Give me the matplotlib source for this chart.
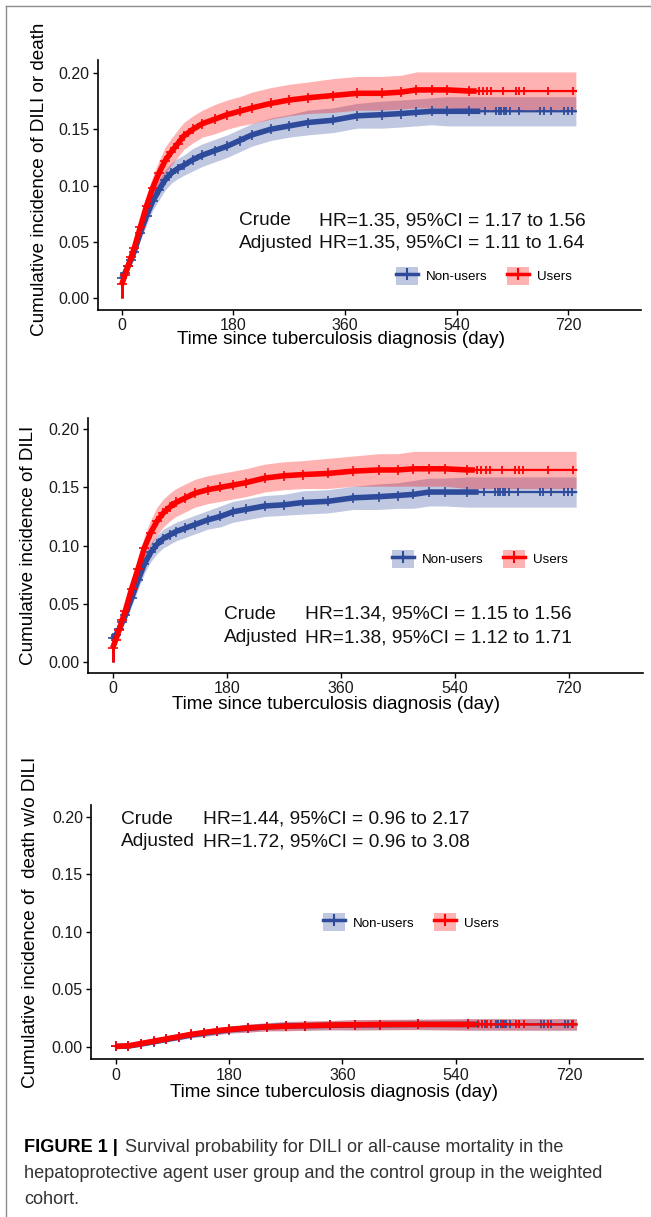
import numpy as np
import matplotlib
matplotlib.use("Agg")
import matplotlib.pyplot as plt
from matplotlib.patches import Patch
from matplotlib.lines import Line2D
from matplotlib.legend_handler import HandlerTuple
from matplotlib.ticker import FormatStrFormatter

plt.rcParams['font.family'] = ['Liberation Sans', 'DejaVu Sans']

# ---- data ----
days = [0, 5, 10, 15, 20, 30, 40, 50, 60, 70, 80, 90, 100, 115, 130, 150, 170, 190,
        210, 240, 270, 300, 340, 380, 420, 450, 475, 500, 525, 560, 600, 650, 700, 732]

# panel A: DILI or death
a_users = [0.012, 0.020, 0.028, 0.036, 0.044, 0.063, 0.082, 0.098, 0.111, 0.122, 0.130, 0.137,
           0.144, 0.150, 0.155, 0.159, 0.163, 0.166, 0.169, 0.173, 0.176, 0.178, 0.180, 0.182,
           0.182, 0.183, 0.185, 0.185, 0.185, 0.184, 0.184, 0.184, 0.184, 0.184]
a_users_hi = [0.015, 0.024, 0.033, 0.042, 0.050, 0.071, 0.091, 0.108, 0.122, 0.134, 0.142, 0.149,
              0.156, 0.162, 0.167, 0.172, 0.176, 0.179, 0.183, 0.187, 0.190, 0.192, 0.195, 0.197,
              0.197, 0.198, 0.201, 0.201, 0.201, 0.201, 0.201, 0.201, 0.201, 0.201]
a_users_lo = [0.009, 0.016, 0.023, 0.030, 0.038, 0.055, 0.073, 0.088, 0.100, 0.110, 0.118, 0.125,
              0.132, 0.138, 0.143, 0.146, 0.150, 0.153, 0.155, 0.159, 0.162, 0.164, 0.165, 0.167,
              0.167, 0.168, 0.169, 0.169, 0.169, 0.167, 0.167, 0.167, 0.167, 0.167]
a_non = [0.018, 0.022, 0.028, 0.034, 0.041, 0.058, 0.073, 0.086, 0.096, 0.105, 0.111, 0.115,
         0.118, 0.123, 0.127, 0.131, 0.135, 0.140, 0.145, 0.150, 0.153, 0.156, 0.158, 0.162,
         0.163, 0.164, 0.165, 0.166, 0.166, 0.166, 0.166, 0.166, 0.166, 0.166]
a_non_hi = [0.021, 0.026, 0.033, 0.039, 0.047, 0.065, 0.081, 0.094, 0.105, 0.114, 0.120, 0.124,
            0.127, 0.133, 0.137, 0.141, 0.145, 0.150, 0.155, 0.160, 0.163, 0.167, 0.169, 0.173,
            0.175, 0.176, 0.177, 0.178, 0.179, 0.179, 0.179, 0.179, 0.179, 0.179]
a_non_lo = [0.015, 0.018, 0.023, 0.029, 0.035, 0.051, 0.065, 0.078, 0.087, 0.096, 0.102, 0.106,
            0.109, 0.113, 0.117, 0.121, 0.125, 0.130, 0.135, 0.140, 0.143, 0.145, 0.147, 0.151,
            0.151, 0.152, 0.153, 0.154, 0.153, 0.153, 0.153, 0.153, 0.153, 0.153]

# panel B: DILI
b_users = [0.012, 0.019, 0.027, 0.036, 0.044, 0.063, 0.080, 0.098, 0.111, 0.121, 0.128, 0.133,
           0.137, 0.141, 0.145, 0.148, 0.150, 0.152, 0.154, 0.158, 0.160, 0.161, 0.162, 0.164,
           0.165, 0.165, 0.166, 0.166, 0.166, 0.165, 0.165, 0.165, 0.165, 0.165]
b_users_hi = [0.015, 0.023, 0.032, 0.042, 0.050, 0.071, 0.089, 0.108, 0.122, 0.133, 0.140, 0.145,
              0.149, 0.153, 0.157, 0.160, 0.162, 0.164, 0.166, 0.170, 0.172, 0.173, 0.175, 0.177,
              0.179, 0.179, 0.181, 0.181, 0.181, 0.181, 0.181, 0.181, 0.181, 0.181]
b_users_lo = [0.009, 0.015, 0.022, 0.030, 0.038, 0.055, 0.071, 0.088, 0.100, 0.109, 0.116, 0.121,
              0.125, 0.129, 0.133, 0.136, 0.138, 0.140, 0.142, 0.146, 0.148, 0.149, 0.149, 0.151,
              0.151, 0.151, 0.151, 0.151, 0.151, 0.149, 0.149, 0.149, 0.149, 0.149]
b_non = [0.020, 0.023, 0.028, 0.034, 0.040, 0.055, 0.070, 0.084, 0.094, 0.101, 0.106, 0.109,
         0.112, 0.115, 0.118, 0.122, 0.125, 0.129, 0.131, 0.134, 0.135, 0.137, 0.138, 0.141,
         0.142, 0.143, 0.144, 0.146, 0.146, 0.146, 0.146, 0.146, 0.146, 0.146]
b_non_hi = [0.023, 0.027, 0.033, 0.039, 0.046, 0.062, 0.078, 0.092, 0.102, 0.109, 0.114, 0.117,
            0.120, 0.123, 0.126, 0.130, 0.134, 0.138, 0.140, 0.143, 0.144, 0.147, 0.148, 0.151,
            0.153, 0.154, 0.156, 0.158, 0.158, 0.159, 0.159, 0.159, 0.159, 0.159]
b_non_lo = [0.017, 0.019, 0.023, 0.029, 0.034, 0.048, 0.062, 0.076, 0.086, 0.093, 0.098, 0.101,
            0.104, 0.107, 0.110, 0.114, 0.116, 0.120, 0.122, 0.125, 0.126, 0.127, 0.128, 0.131,
            0.131, 0.132, 0.132, 0.134, 0.134, 0.133, 0.133, 0.133, 0.133, 0.133]

# panel C: death without DILI
days_c = [0, 20, 40, 60, 80, 100, 120, 140, 160, 180, 210, 240, 270, 300, 340, 380, 420, 480,
          560, 650, 732]
c_users = [0.0005, 0.0010, 0.0030, 0.0050, 0.0070, 0.0090, 0.0110, 0.0125, 0.0140, 0.0152, 0.0165,
           0.0175, 0.0180, 0.0185, 0.0190, 0.0193, 0.0195, 0.0196, 0.0196, 0.0196, 0.0196]
c_users_hi = [0.0010, 0.0020, 0.0045, 0.0070, 0.0090, 0.0115, 0.0135, 0.0155, 0.0170, 0.0182, 0.0200,
              0.0210, 0.0220, 0.0225, 0.0230, 0.0238, 0.0240, 0.0241, 0.0246, 0.0246, 0.0246]
c_users_lo = [0.0000, 0.0000, 0.0015, 0.0030, 0.0050, 0.0065, 0.0085, 0.0095, 0.0110, 0.0122, 0.0130,
              0.0140, 0.0140, 0.0145, 0.0150, 0.0148, 0.0150, 0.0151, 0.0146, 0.0146, 0.0146]
c_non = [0.0005, 0.0008, 0.0025, 0.0045, 0.0065, 0.0085, 0.0105, 0.0120, 0.0135, 0.0150, 0.0163,
         0.0175, 0.0182, 0.0185, 0.0188, 0.0192, 0.0194, 0.0196, 0.0196, 0.0196, 0.0196]
c_non_hi = [0.0010, 0.0018, 0.0040, 0.0065, 0.0085, 0.0110, 0.0130, 0.0150, 0.0165, 0.0180, 0.0198,
            0.0210, 0.0222, 0.0225, 0.0228, 0.0237, 0.0239, 0.0241, 0.0246, 0.0246, 0.0246]
c_non_lo = [0.0000, 0.0000, 0.0010, 0.0025, 0.0045, 0.0060, 0.0080, 0.0090, 0.0105, 0.0120, 0.0128,
            0.0140, 0.0142, 0.0145, 0.0148, 0.0147, 0.0149, 0.0151, 0.0146, 0.0146, 0.0146]

# censoring: dense up to these days, then sparse marks
dense_end_users = 572
dense_end_non = 578
censor_users = [576, 582, 589, 596, 615, 636, 641, 648, 687, 727]
censor_non = [586, 604, 608, 612, 616, 620, 626, 640, 675, 680, 692, 713, 719, 725]

x_ticks = [0, 180, 360, 540, 720]
y_ticks = [0.00, 0.05, 0.10, 0.15, 0.20]

BLUE = '#2E4A9A'
RED = '#FF0000'
BAND_ALPHA = 0.3


def draw_line(ax, t, v, color, dense_end, censor):
    t = np.asarray(t, dtype=float)
    v = np.asarray(v, dtype=float)
    # jump from 0 at time zero
    ax.plot([0, 0], [0, v[0]], color=color, lw=2.0, solid_capstyle='butt')
    ax.plot(t, v, color=color, lw=1.6)
    keep = t <= dense_end
    td = np.append(t[keep], dense_end)
    vd = np.append(v[keep], np.interp(dense_end, t, v))
    ax.plot(td, vd, color=color, lw=4.0, solid_capstyle='butt')
    ax.plot(t[keep], v[keep], ls='none', marker='+', ms=6.5, mew=1.2, color=color)
    ax.plot(censor, np.interp(censor, t, v), ls='none', marker='+', ms=6,
            mew=1.3, color=color)


def draw_panel(ax, t, non, non_lo, non_hi, users, users_lo, users_hi, ylim):
    ax.fill_between(t, non_lo, non_hi, color=BLUE, alpha=BAND_ALPHA, lw=0)
    ax.fill_between(t, users_lo, users_hi, color=RED, alpha=BAND_ALPHA, lw=0)
    draw_line(ax, t, non, BLUE, dense_end_non, censor_non)
    draw_line(ax, t, users, RED, dense_end_users, censor_users)

    ax.set_xlim(-39, 837)
    ax.set_ylim(*ylim)
    ax.set_xticks(x_ticks)
    ax.set_yticks(y_ticks)
    ax.yaxis.set_major_formatter(FormatStrFormatter('%.2f'))
    for side in ['top', 'right']:
        ax.spines[side].set_visible(False)
    for side in ['left', 'bottom']:
        ax.spines[side].set_linewidth(1.2)
        ax.spines[side].set_color('black')
    ax.tick_params(length=3.5, width=1.0, color='black', labelsize=11.5,
                   labelcolor='#1a1a1a', pad=2.5)


def add_legend(ax, x, y):
    handles = [
        (Patch(facecolor=BLUE, alpha=BAND_ALPHA, lw=0),
         Line2D([], [], color=BLUE, lw=2.5, marker='+', ms=8, mew=1.5)),
        (Patch(facecolor=RED, alpha=BAND_ALPHA, lw=0),
         Line2D([], [], color=RED, lw=2.5, marker='+', ms=8, mew=1.5)),
    ]
    ax.legend(handles, ['Non-users', 'Users'], handler_map={tuple: HandlerTuple(ndivide=1)},
              ncol=2, loc='center left', bbox_to_anchor=(x, y), frameon=False,
              fontsize=9.6, handlelength=1.65, handleheight=1.65, handletextpad=0.6,
              columnspacing=1.45, borderpad=0, borderaxespad=0, numpoints=1)


def add_hr_text(ax, x_crude, x_hr, y1, y2, crude, adjusted):
    kw = dict(fontsize=13.8, ha='left', va='center', color='#111111')
    ax.text(x_crude, y1, 'Crude', **kw)
    ax.text(x_hr, y1, crude, **kw)
    ax.text(x_crude, y2, 'Adjusted', **kw)
    ax.text(x_hr, y2, adjusted, **kw)


W, H = 651, 1217
fig = plt.figure(figsize=(W / 100, H / 100), dpi=100)


def px_axes(left, top, right, bottom):
    return fig.add_axes([left / W, 1 - bottom / H, (right - left) / W, (bottom - top) / H])


axA = px_axes(97.5, 60, 641, 310)
draw_panel(axA, days, a_non, a_non_lo, a_non_hi, a_users, a_users_lo, a_users_hi, (-0.0107, 0.2116))
add_hr_text(axA, 188.5, 317.5, 0.0687, 0.0486,
            'HR=1.35, 95%CI = 1.17 to 1.56', 'HR=1.35, 95%CI = 1.11 to 1.64')
add_legend(axA, 0.549, 0.137)
axA.text(-0.1076, 0.524, 'Cumulative incidence of DILI or death', transform=axA.transAxes,
         rotation=90, ha='center', va='center', fontsize=13.6)
axA.text(0.448, -0.12, 'Time since tuberculosis diagnosis (day)', transform=axA.transAxes,
         ha='center', va='center', fontsize=13.6)

axB = px_axes(88, 418, 642.6, 673)
draw_panel(axB, days, b_non, b_non_lo, b_non_hi, b_users, b_users_lo, b_users_hi, (-0.0097, 0.2097))
add_hr_text(axB, 175.6, 303.7, 0.041, 0.0207,
            'HR=1.34, 95%CI = 1.15 to 1.56', 'HR=1.38, 95%CI = 1.12 to 1.71')
add_legend(axB, 0.548, 0.448)
axB.text(-0.1064, 0.502, 'Cumulative incidence of DILI', transform=axB.transAxes,
         rotation=90, ha='center', va='center', fontsize=13.6)
axB.text(0.447, -0.1216, 'Time since tuberculosis diagnosis (day)', transform=axB.transAxes,
         ha='center', va='center', fontsize=13.6)

axC = px_axes(91.3, 805, 642.6, 1059.3)
draw_panel(axC, days_c, c_non, c_non_lo, c_non_hi, c_users, c_users_lo, c_users_hi, (-0.0107, 0.2102))
add_hr_text(axC, 7.6, 138.8, 0.1979, 0.1782,
            'HR=1.44, 95%CI = 0.96 to 2.17', 'HR=1.72, 95%CI = 0.96 to 3.08')
add_legend(axC, 0.420, 0.539)
axC.text(-0.1094, 0.538, 'Cumulative incidence of  death w/o DILI', transform=axC.transAxes,
         rotation=90, ha='center', va='center', fontsize=13.6)
axC.text(0.440, -0.1286, 'Time since tuberculosis diagnosis (day)', transform=axC.transAxes,
         ha='center', va='center', fontsize=13.6)

# caption
cap_kw = dict(fontsize=13.1, va='center', ha='left')
fig.text(24 / W, 1 - 1148 / H, 'FIGURE 1 |', fontweight='bold', color='black', **cap_kw)
fig.text(125 / W, 1 - 1148 / H, 'Survival probability for DILI or all-cause mortality in the',
         color='#333333', **cap_kw)
fig.text(24 / W, 1 - 1173 / H,
         'hepatoprotective agent user group and the control group in the weighted',
         color='#333333', **cap_kw)
fig.text(24 / W, 1 - 1199 / H, 'cohort.', color='#333333', **cap_kw)

# page frame (top and left edges)
frame_kw = dict(color='#8c8c8c', lw=1.0, transform=fig.transFigure)
fig.add_artist(Line2D([6 / W, 1], [1 - 6 / H, 1 - 6 / H], **frame_kw))
fig.add_artist(Line2D([6 / W, 6 / W], [0, 1 - 6 / H], **frame_kw))

fig.savefig('out.png', dpi=100)
